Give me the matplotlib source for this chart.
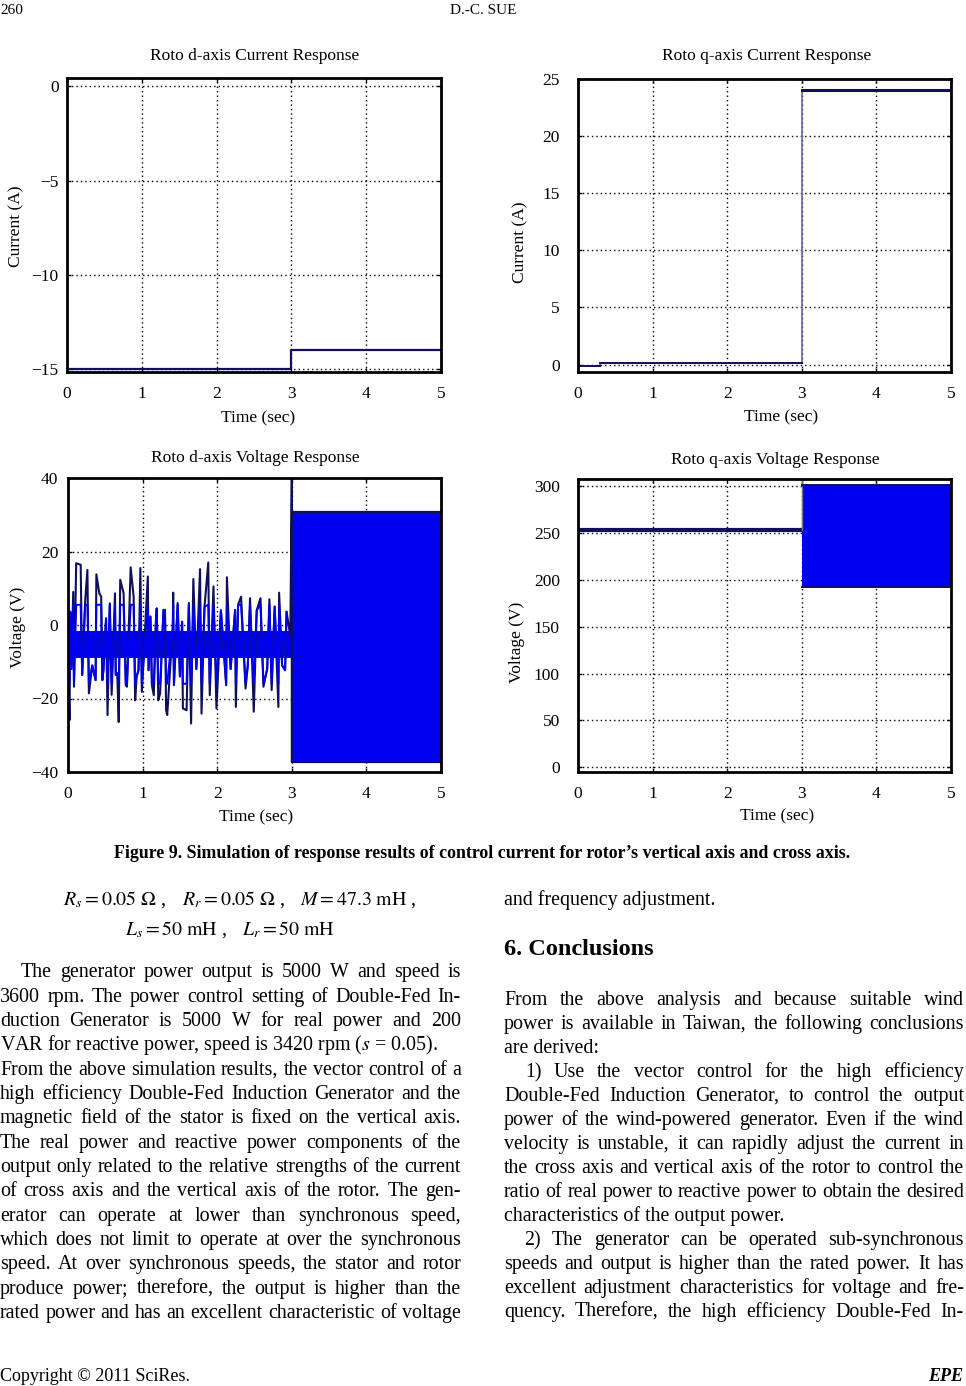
import matplotlib
matplotlib.use('Agg')
import matplotlib.pyplot as plt
import numpy as np

plt.rcParams['font.family'] = ['Liberation Serif', 'DejaVu Serif']
plt.rcParams['mathtext.fontset'] = 'stix'
plt.rcParams['axes.unicode_minus'] = True

# ---------------- data ----------------
time_ticks = [0, 1, 2, 3, 4, 5]

# Rotor d-axis current (A): step values
id_t = [0, 3, 5]
id_v = [-15.0, -14.0, -14.0]
id_yticks = [0, -5, -10, -15]

# Rotor q-axis current (A)
iq_t = [0, 0.3, 3, 5]
iq_v = [-0.1, 0.15, 24.0, 24.0]
iq_yticks = [0, 5, 10, 15, 20, 25]

# Rotor d-axis voltage (V), 0-3 s : spike peaks
vd_up_t = [0.03, 0.07, 0.11, 0.17, 0.26, 0.38, 0.42, 0.51, 0.63, 0.70, 0.84, 0.97,
           1.07, 1.19, 1.30, 1.41, 1.53, 1.68, 1.77, 1.88, 1.95, 2.13, 2.24, 2.32,
           2.44, 2.58, 2.70, 2.83, 2.93]
vd_up_v = [3.6, 9.0, 16.8, 16.4, 15.0, 13.8, 8.6, 1.8, 8.6, 12.3, 15.7, 15.5,
           13.2, 4.5, 4.1, 8.8, 0.9, 12.5, 15.2, 17.0, 10.5, 13.0, 4.1, 7.7,
           7.3, 7.3, 7.0, 8.8, 3.6]
vd_dn_t = [0.02, 0.08, 0.19, 0.28, 0.37, 0.46, 0.53, 0.64, 0.68, 0.79, 0.90, 0.99,
           1.08, 1.15, 1.21, 1.33, 1.42, 1.54, 1.59, 1.65, 1.79, 1.90, 1.99, 2.12,
           2.25, 2.38, 2.49, 2.62, 2.73, 2.82, 2.91]
vd_dn_v = [-25.9, -16.8, -13.6, -18.6, -15.0, -15.0, -24.5, -13.6, -26.4, -16.8, -20.5, -18.2,
           -12.3, -19.1, -20.5, -24.5, -16.4, -22.7, -23.2, -26.8, -24.1, -19.1, -22.7, -16.4,
           -22.3, -17.3, -23.6, -16.8, -17.7, -22.3, -12.3]
# medium-size swings between the big spikes
vd_mid_t = [0.045, 0.23, 0.325, 0.445, 0.475, 0.56, 0.585, 0.66, 0.745, 0.775, 0.88, 0.92,
            0.945, 1.105, 1.125, 1.18, 1.235, 1.28, 1.315, 1.405, 1.47, 1.5, 1.62, 1.72,
            1.83, 2.05, 2.18, 2.28, 2.41, 2.53, 2.67, 2.77, 2.87]
vd_mid_v = [-12.0, 6.5, -11.0, 7.7, -12.3, 5.9, -19.0, -13.1, 8.7, -16.4, 7.7, -14.0,
            -12.3, 2.3, -16.4, 1.9, -18.6, 4.1, -23.2, -0.5, 6.0, -14.0, 6.0, -12.0,
            5.0, 4.0, -12.0, 5.5, -11.0, 4.0, -12.0, 5.0, -11.0]
vd_core_lo, vd_core_hi = -9.0, -1.5          # dense core band 0-3 s
vd_jump_t = [2.98, 3.0, 3.0]
vd_jump_v = [-3.0, 40.0, -37.0]
vd_env_t = [3.0, 5.0]                         # dense oscillation 3-5 s
vd_env_lo = [-37.3, -37.3]
vd_env_hi = [30.7, 30.7]
vd_yticks = [40, 20, 0, -20, -40]

# Rotor q-axis voltage (V)
vq_t = [0, 3]
vq_v = [253, 253]
vq_jump_t = [3.0, 3.0]
vq_jump_v = [253, 310]
vq_env_t = [3.0, 5.0]
vq_env_lo = [192, 192]
vq_env_hi = [301, 301]
vq_yticks = [0, 50, 100, 150, 200, 250, 300]

# ---------------- figure ----------------
W, H = 966, 1386
fig = plt.figure(figsize=(W / 100, H / 100), dpi=100)
fig.patch.set_facecolor('white')

def fx(x):
    return x / W

def fy(y):
    return 1 - y / H

def make_ax(l, t, r, b, ypad):
    ax = fig.add_axes([fx(l), fy(b), (r - l) / W, (b - t) / H])
    for s in ax.spines.values():
        s.set_linewidth(2.0)
        s.set_color('black')
    ax.set_axisbelow(True)
    ax.grid(True, color='black', linestyle=(0, (1, 2.2)), linewidth=1.0)
    ax.tick_params(direction='in', length=3, width=1, top=True, right=True,
                   labelsize=12.5)
    ax.tick_params(axis='y', pad=ypad)
    ax.tick_params(axis='x', pad=10)
    ax.set_xlim(0, 5)
    ax.set_xticks(time_ticks)
    return ax

NAVY = '#10105a'
BLUE = '#0000f0'

# Plot 1
ax1 = make_ax(67, 78, 441, 372, 6)
ax1.plot(id_t, id_v, drawstyle='steps-post', color=NAVY, lw=1.6)
ax1.set_ylim(-15.18, 0.45)
ax1.set_yticks(id_yticks)

# Plot 2
ax2 = make_ax(578, 79, 951, 372, 13)
ax2.plot(iq_t, iq_v, drawstyle='steps-post', color='#6a6a9a', lw=1.2)
ax2.plot([iq_t[0], iq_t[1]], [iq_v[0], iq_v[0]], color=NAVY, lw=1.4)
ax2.plot([iq_t[1], iq_t[2]], [iq_v[1], iq_v[1]], color=NAVY, lw=1.4)
ax2.plot([iq_t[2], iq_t[3]], [iq_v[2], iq_v[3]], color=NAVY, lw=2.2)
ax2.set_ylim(-0.65, 25)
ax2.set_yticks(iq_yticks)

# Plot 3
ax3 = make_ax(68, 478, 441, 772, 7)
all_t = np.array(vd_up_t + vd_dn_t + vd_mid_t)
all_v = np.array(vd_up_v + vd_dn_v + vd_mid_v)
order = np.argsort(all_t)
vt = all_t[order]
vv = all_v[order]
ax3.fill_between([0, 2.99], vd_core_lo, vd_core_hi, color=BLUE, lw=0)
ax3.plot(np.concatenate([[0.0], vt, vd_jump_t]), np.concatenate([[-5.0], vv, vd_jump_v]),
         color=NAVY, lw=1.5)
ax3.plot(vt, np.clip(vv, vd_core_lo - 7, vd_core_hi + 7), color=BLUE, lw=1.4)
ax3.fill_between(vd_env_t, vd_env_lo, vd_env_hi, color=BLUE, lw=0)
ax3.plot(vd_env_t, vd_env_hi, color=NAVY, lw=1.6)
ax3.plot(vd_env_t, vd_env_lo, color=NAVY, lw=1.6)
ax3.set_ylim(-40, 40)
ax3.set_yticks(vd_yticks)

# Plot 4
ax4 = make_ax(578, 479, 951, 772, 13)
ax4.plot(vq_t, vq_v, color=NAVY, lw=3.0, solid_capstyle='butt')
ax4.plot(vq_jump_t, vq_jump_v, color='#707090', lw=1.0)
ax4.fill_between(vq_env_t, vq_env_lo, vq_env_hi, color=BLUE, lw=0)
ax4.plot(vq_env_t, vq_env_hi, color=NAVY, lw=1.4)
ax4.plot(vq_env_t, vq_env_lo, color=NAVY, lw=1.4)
ax4.set_ylim(-5, 307.5)
ax4.set_yticks(vq_yticks)

# titles and labels (placed in page pixels)
TS = 12.5
fig.text(fx(255), fy(56), 'Roto d-axis Current Response', ha='center', va='center', fontsize=TS)
fig.text(fx(767), fy(56), 'Roto q-axis Current Response', ha='center', va='center', fontsize=TS)
fig.text(fx(255), fy(458), 'Roto d-axis Voltage Response', ha='center', va='center', fontsize=TS)
fig.text(fx(775), fy(460), 'Roto q-axis Voltage Response', ha='center', va='center', fontsize=TS)
fig.text(fx(258), fy(418), 'Time (sec)', ha='center', va='center', fontsize=TS)
fig.text(fx(781), fy(417), 'Time (sec)', ha='center', va='center', fontsize=TS)
fig.text(fx(256), fy(817), 'Time (sec)', ha='center', va='center', fontsize=TS)
fig.text(fx(777), fy(816), 'Time (sec)', ha='center', va='center', fontsize=TS)
fig.text(fx(16), fy(226), 'Current (A)', ha='center', va='center', rotation=90, fontsize=TS)
fig.text(fx(520), fy(242), 'Current (A)', ha='center', va='center', rotation=90, fontsize=TS)
fig.text(fx(18), fy(627), 'Voltage (V)', ha='center', va='center', rotation=90, fontsize=TS)
fig.text(fx(517), fy(642), 'Voltage (V)', ha='center', va='center', rotation=90, fontsize=TS)

# ---------------- page text ----------------
fig.text(fx(0), fy(10), '260', ha='left', va='center', fontsize=11)
fig.text(fx(483), fy(10), 'D.-C. SUE', ha='center', va='center', fontsize=11)

fig.text(fx(482), fy(858),
         'Figure 9. Simulation of response results of control current for rotor\u2019s vertical axis and cross axis.',
         ha='center', va='baseline', fontsize=12.9, fontweight='bold')

ES = 14.3
fig.text(fx(63), fy(905), r'$R_s = 0.05\ \Omega$ ,', ha='left', va='baseline', fontsize=ES)
fig.text(fx(182), fy(905), r'$R_r = 0.05\ \Omega$ ,', ha='left', va='baseline', fontsize=ES)
fig.text(fx(300), fy(905), r'$M = 47.3\ \mathrm{mH}$ ,', ha='left', va='baseline', fontsize=ES)
fig.text(fx(125), fy(935), r'$L_s = 50\ \mathrm{mH}$ ,', ha='left', va='baseline', fontsize=ES)
fig.text(fx(242), fy(935), r'$L_r = 50\ \mathrm{mH}$', ha='left', va='baseline', fontsize=ES)

renderer = fig.canvas.get_renderer()
BS = 14.4

def draw_line(text, x0, x1, y, justify=True, indent=0, size=BS):
    words = text.split(' ')
    if not justify or len(words) == 1:
        fig.text(fx(x0 + indent), fy(y), text, ha='left', va='baseline', fontsize=size)
        return
    objs = [fig.text(0, fy(y), w, ha='left', va='baseline', fontsize=size) for w in words]
    widths = [o.get_window_extent(renderer).width for o in objs]
    gap = (x1 - x0 - indent - sum(widths)) / (len(words) - 1)
    x = x0 + indent
    for o, w in zip(objs, widths):
        o.set_x(fx(x))
        x += w + gap

left_lines = [
    ('The generator power output is 5000 W and speed is', 972, True, 21),
    ('3600 rpm. The power control setting of Double-Fed In-', 997, True, 0),
    ('duction Generator is 5000 W for real power and 200', 1021, True, 0),
    ('VAR for reactive power, speed is 3420 rpm ($s$ = 0.05).', 1045, False, 0),
    ('From the above simulation results, the vector control of a', 1070, True, 0),
    ('high efficiency Double-Fed Induction Generator and the', 1094, True, 0),
    ('magnetic field of the stator is fixed on the vertical axis.', 1118, True, 0),
    ('The real power and reactive power components of the', 1143, True, 0),
    ('output only related to the relative strengths of the current', 1167, True, 0),
    ('of cross axis and the vertical axis of the rotor. The gen-', 1191, True, 0),
    ('erator can operate at lower than synchronous speed,', 1216, True, 0),
    ('which does not limit to operate at over the synchronous', 1240, True, 0),
    ('speed. At over synchronous speeds, the stator and rotor', 1264, True, 0),
    ('produce power; therefore, the output is higher than the', 1289, True, 0),
    ('rated power and has an excellent characteristic of voltage', 1313, True, 0),
]
for txt, y, j, ind in left_lines:
    draw_line(txt, 0, 461, y + 5, justify=j, indent=ind)

right_lines = [
    ('and frequency adjustment.', 900, False, 0),
    ('From the above analysis and because suitable wind', 1000, True, 0),
    ('power is available in Taiwan, the following conclusions', 1024, True, 0),
    ('are derived:', 1048, False, 0),
    ('1) Use the vector control for the high efficiency', 1072, True, 21),
    ('Double-Fed Induction Generator, to control the output', 1096, True, 0),
    ('power of the wind-powered generator. Even if the wind', 1120, True, 0),
    ('velocity is unstable, it can rapidly adjust the current in', 1144, True, 0),
    ('the cross axis and vertical axis of the rotor to control the', 1168, True, 0),
    ('ratio of real power to reactive power to obtain the desired', 1192, True, 0),
    ('characteristics of the output power.', 1216, False, 0),
    ('2) The generator can be operated sub-synchronous', 1240, True, 20),
    ('speeds and output is higher than the rated power. It has', 1264, True, 0),
    ('excellent adjustment characteristics for voltage and fre-', 1288, True, 0),
    ('quency. Therefore, the high efficiency Double-Fed In-', 1312, True, 0),
]
for txt, y, j, ind in right_lines:
    draw_line(txt, 504, 964, y + 5, justify=j, indent=ind)

fig.text(fx(504), fy(955), '6. Conclusions', ha='left', va='baseline', fontsize=17.5, fontweight='bold')

fig.text(fx(0), fy(1381), 'Copyright \u00a9 2011 SciRes.', ha='left', va='baseline', fontsize=13)
fig.text(fx(963), fy(1381), 'EPE', ha='right', va='baseline', fontsize=13,
         fontweight='bold', fontstyle='italic')

fig.savefig('out.png', dpi=100)
